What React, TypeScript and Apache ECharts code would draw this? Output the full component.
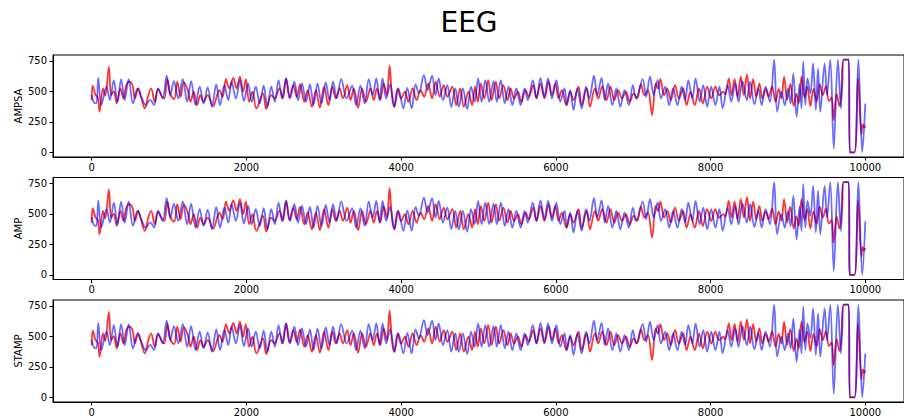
import React, { useEffect, useRef } from "react";
import * as echarts from "echarts";

const panelNames = ["AMPSA", "AMP", "STAMP"];
const xTicks = [0, 2000, 4000, 6000, 8000, 10000];
const yTicks = [0, 250, 500, 750];
const blueEnd = [400, 440, 360];

const blueX = [
  0, 30, 60, 85, 124, 192, 235, 286, 333, 380, 427, 478, 534, 593, 649, 700, 756, 807, 858, 918,
  969, 1016, 1063, 1119, 1178, 1234, 1285, 1341, 1396, 1447, 1499, 1554, 1610, 1659, 1715, 1766, 1809, 1864, 1916, 1967,
  2022, 2069, 2121, 2172, 2223, 2270, 2321, 2368, 2415, 2462, 2513, 2565, 2620, 2667, 2718, 2770, 2821, 2868, 2919, 2970,
  3026, 3073, 3120, 3167, 3225, 3295, 3367, 3418, 3474, 3529, 3581, 3632, 3679, 3722, 3760, 3807, 3858, 3914, 3965, 4029,
  4080, 4136, 4187, 4230, 4294, 4341, 4400, 4443, 4486, 4541, 4597, 4648, 4699, 4746, 4798, 4853, 4904, 4950, 4995, 5040,
  5088, 5139, 5194, 5237, 5288, 5340, 5387, 5438, 5489, 5545, 5596, 5638, 5702, 5749, 5801, 5852, 5899, 5950, 6006, 6057,
  6112, 6142, 6185, 6228, 6279, 6334, 6390, 6433, 6492, 6535, 6591, 6632, 6675, 6730, 6782, 6833, 6888, 6944, 6995, 7038,
  7123, 7166, 7217, 7264, 7315, 7358, 7413, 7465, 7516, 7571, 7627, 7670, 7712, 7764, 7806, 7858, 7905, 7956, 8007, 8063,
  8114, 8156, 8220, 8267, 8318, 8361, 8412, 8468, 8511, 8566, 8617, 8660, 8711, 8767, 8822, 8860, 8916, 8959, 9002, 9035,
  9069, 9112, 9150, 9175, 9197, 9225, 9252, 9290, 9325, 9360, 9389, 9418, 9474, 9505, 9547, 9592, 9645, 9685, 9720, 9785,
  9800, 9860, 9910, 9960, 10000,
];
const blueY = [
  469, 409, 401, 611, 387, 538, 428, 592, 415, 600, 428, 600, 401, 524, 442, 387, 430, 387, 524, 442,
  628, 469, 584, 442, 600, 415, 584, 387, 538, 401, 532, 374, 557, 387, 551, 428, 579, 442, 592, 420,
  565, 415, 538, 401, 546, 374, 538, 415, 592, 442, 606, 442, 579, 428, 565, 415, 557, 387, 565, 401,
  573, 428, 579, 442, 600, 442, 546, 387, 546, 401, 600, 469, 606, 428, 606, 442, 557, 374, 524, 360,
  529, 360, 557, 483, 633, 510, 628, 469, 606, 428, 551, 374, 524, 374, 524, 355, 538, 415, 606, 415,
  592, 415, 584, 415, 592, 401, 538, 387, 524, 387, 524, 428, 592, 442, 611, 456, 606, 442, 592, 415,
  524, 387, 510, 347, 524, 360, 538, 442, 628, 469, 611, 428, 565, 387, 524, 374, 510, 387, 551, 442,
  600, 456, 620, 469, 592, 442, 538, 387, 524, 387, 538, 428, 592, 442, 606, 415, 551, 374, 538, 387,
  538, 360, 551, 415, 565, 415, 584, 428, 579, 393, 524, 387, 538, 415, 760, 333, 497, 387, 524, 400,
  647, 292, 560, 361, 743, 388, 606, 483, 729, 346, 688, 333, 729, 470, 760, 30, 760, 360, 760, 760,
  0, 0, 760, 0, 400,
];

const redX = [
  0, 13, 51, 81, 102, 145, 175, 222, 252, 286, 324, 371, 410, 448, 487, 529, 559, 602, 640, 687,
  734, 768, 815, 858, 905, 939, 978, 1020, 1067, 1106, 1149, 1191, 1242, 1277, 1319, 1362, 1405, 1447, 1499, 1570,
  1651, 1693, 1736, 1779, 1830, 1873, 1916, 1958, 1992, 2035, 2078, 2129, 2214, 2257, 2321, 2364, 2428, 2471, 2513, 2556,
  2607, 2650, 2693, 2748, 2791, 2846, 2898, 2949, 3004, 3060, 3111, 3154, 3205, 3248, 3303, 3346, 3388, 3444, 3495, 3546,
  3602, 3645, 3687, 3730, 3773, 3815, 3850, 3880, 3909, 3956, 3999, 4050, 4093, 4149, 4200, 4251, 4298, 4349, 4400, 4447,
  4499, 4550, 4597, 4661, 4712, 4763, 4810, 4870, 4917, 4956, 4990, 5030, 5075, 5126, 5169, 5224, 5267, 5322, 5374, 5416,
  5459, 5510, 5553, 5609, 5651, 5707, 5749, 5801, 5852, 5907, 5950, 5993, 6036, 6078, 6134, 6185, 6228, 6292, 6334, 6398,
  6441, 6505, 6548, 6600, 6655, 6705, 6755, 6805, 6855, 6905, 6955, 7005, 7050, 7100, 7145, 7190, 7243, 7290, 7320, 7350,
  7400, 7440, 7485, 7540, 7590, 7645, 7690, 7740, 7795, 7850, 7900, 7955, 8010, 8060, 8110, 8165, 8190, 8235, 8270, 8310,
  8350, 8390, 8430, 8470, 8510, 8550, 8590, 8630, 8670, 8710, 8750, 8795, 8840, 8880, 8915, 8950, 8990, 9030, 9075, 9110,
  9140, 9175, 9215, 9250, 9290, 9330, 9370, 9410, 9450, 9490, 9530, 9565, 9590, 9630, 9665, 9700, 9720, 9785, 9800, 9860,
  9905, 9950, 9965, 9985, 10000,
];
const redY = [
  428, 546, 469, 448, 333, 524, 464, 701, 469, 502, 401, 524, 442, 551, 579, 546, 442, 524, 448, 360,
  475, 524, 415, 519, 464, 442, 600, 469, 436, 579, 456, 573, 510, 415, 497, 387, 469, 415, 469, 380,
  510, 456, 600, 524, 611, 524, 620, 497, 600, 415, 497, 360, 483, 355, 469, 442, 524, 442, 606, 448,
  551, 456, 557, 415, 510, 374, 510, 366, 538, 387, 538, 442, 524, 442, 551, 428, 524, 366, 524, 415,
  524, 428, 524, 428, 565, 469, 710, 469, 374, 524, 442, 497, 415, 524, 428, 510, 456, 565, 442, 579,
  456, 551, 456, 538, 387, 524, 374, 497, 387, 538, 415, 565, 442, 592, 428, 579, 442, 551, 428, 524,
  442, 497, 415, 510, 456, 551, 442, 565, 442, 579, 469, 565, 442, 510, 387, 497, 428, 538, 387, 524,
  374, 524, 442, 540, 428, 538, 428, 510, 442, 497, 415, 483, 442, 557, 469, 510, 306, 565, 524, 600,
  469, 524, 428, 551, 442, 524, 387, 497, 387, 524, 401, 538, 442, 538, 469, 497, 475, 606, 469, 600,
  456, 620, 469, 640, 442, 600, 456, 565, 442, 520, 456, 540, 415, 520, 442, 620, 430, 560, 380, 480,
  400, 620, 450, 540, 380, 520, 420, 560, 470, 540, 420, 450, 265, 480, 380, 540, 760, 760, 0, 0,
  610, 150, 230, 200, 220,
];

const FONT = "DejaVu Sans";

export default function App() {
  const ref = useRef<HTMLDivElement>(null);
  useEffect(() => {
    const chart = echarts.init(ref.current!, null, { renderer: "svg" });
    const tops = [55, 177.5, 300];
    const H = 102;
    const grids = tops.map((t) => ({
      left: 53,
      top: t,
      width: 859,
      height: H,
      show: true,
      borderColor: "#000",
      borderWidth: 1,
      backgroundColor: "transparent",
    }));
    const plain = (v: number) => String(v);
    const xAxes = tops.map((_, i) => ({
      type: "value",
      gridIndex: i,
      min: -500,
      max: 10500,
      axisLine: { show: true, onZero: false, lineStyle: { color: "#000", width: 1 } },
      axisTick: { show: true, customValues: xTicks, length: 3.5, lineStyle: { color: "#000" } },
      axisLabel: { customValues: xTicks, formatter: plain, fontSize: 10, color: "#000", fontFamily: FONT, margin: 5 },
      splitLine: { show: false },
    }));
    const yAxes = tops.map((_, i) => ({
      type: "value",
      gridIndex: i,
      min: -38,
      max: 798,
      axisLine: { show: true, onZero: false, lineStyle: { color: "#000", width: 1 } },
      axisTick: { show: true, customValues: yTicks, length: 3.5, lineStyle: { color: "#000" } },
      axisLabel: { customValues: yTicks, formatter: plain, fontSize: 10, color: "#000", fontFamily: FONT, margin: 6 },
      splitLine: { show: false },
    }));
    const redData = redX.map((x, k) => [x, redY[k]]);
    const series: any[] = [];
    tops.forEach((_, i) => {
      const bY = blueY.slice();
      bY[bY.length - 1] = blueEnd[i];
      series.push({
        type: "line",
        xAxisIndex: i,
        yAxisIndex: i,
        data: redData,
        symbol: "none",
        smooth: 0.35,
        lineStyle: { color: "rgba(255,0,0,0.8)", width: 1.8 },
        z: 2,
      });
      series.push({
        type: "line",
        xAxisIndex: i,
        yAxisIndex: i,
        data: blueX.map((x, k) => [x, bY[k]]),
        symbol: "none",
        smooth: 0.35,
        lineStyle: { color: "rgba(0,0,255,0.58)", width: 1.8 },
        z: 3,
      });
    });
    const graphics: any[] = [
      {
        type: "text",
        x: 469,
        y: 22,
        style: { text: "EEG", fontSize: 28, fontFamily: FONT, fill: "#000", textAlign: "center", textVerticalAlign: "middle" },
      },
    ];
    panelNames.forEach((name, i) => {
      graphics.push({
        type: "text",
        x: 18,
        y: tops[i] + H / 2,
        rotation: Math.PI / 2,
        style: { text: name, fontSize: 10, fontFamily: FONT, fill: "#000", textAlign: "center", textVerticalAlign: "middle" },
      });
    });
    chart.setOption({
      animation: false,
      backgroundColor: "#fff",
      grid: grids,
      xAxis: xAxes,
      yAxis: yAxes,
      series,
      graphic: graphics,
    });
    return () => chart.dispose();
  }, []);
  return (
    <div
      ref={ref}
      style={{ position: "fixed", left: 0, top: 0, width: 904, height: 420, background: "#fff" }}
    />
  );
}
